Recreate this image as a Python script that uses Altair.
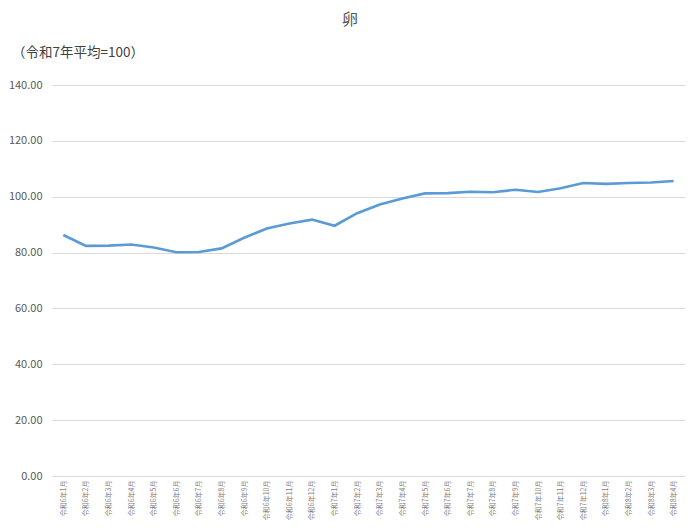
import altair as alt
import pandas as pd

months = [
    "令和6年1月", "令和6年2月", "令和6年3月", "令和6年4月", "令和6年5月", "令和6年6月",
    "令和6年7月", "令和6年8月", "令和6年9月", "令和6年10月", "令和6年11月", "令和6年12月",
    "令和7年1月", "令和7年2月", "令和7年3月", "令和7年4月", "令和7年5月", "令和7年6月",
    "令和7年7月", "令和7年8月", "令和7年9月", "令和7年10月", "令和7年11月", "令和7年12月",
    "令和8年1月", "令和8年2月", "令和8年3月", "令和8年4月",
]
values = [
    86.3, 82.4, 82.5, 82.9, 81.8, 80.1, 80.2, 81.5, 85.3, 88.6, 90.4, 91.8,
    89.6, 94.1, 97.2, 99.4, 101.2, 101.3, 101.8, 101.6, 102.5, 101.7, 103.0, 104.9,
    104.6, 104.9, 105.1, 105.6,
]
y_ticks = [0, 20, 40, 60, 80, 100, 120, 140]
title_text = "卵"
subtitle_text = "（令和7年平均=100）"

FONT = "Noto Sans CJK JP"

df = pd.DataFrame({"month": months, "value": values})

line = alt.Chart(df).mark_line(color="#5b9bd5", strokeWidth=2.6).encode(
    x=alt.X(
        "month:N",
        sort=months,
        axis=alt.Axis(
            title=None, labelAngle=-90, labelFontSize=7, labelColor="#7f7f7f",
            ticks=False, domain=False, grid=False, labelPadding=4, labelFont=FONT,
        ),
    ),
    y=alt.Y(
        "value:Q",
        scale=alt.Scale(domain=[0, 140]),
        axis=alt.Axis(
            title=None, values=y_ticks, format=".2f", grid=True, gridColor="#d9d9d9",
            gridWidth=1, domain=False, ticks=False, labelPadding=10, labelFontSize=11,
            labelColor="#595959", labelFont=FONT,
        ),
    ),
)

title = alt.Chart(pd.DataFrame({"t": [title_text]})).mark_text(
    font=FONT, fontSize=16, color="#595959", align="center", baseline="middle"
).encode(text="t:N", x=alt.value(298), y=alt.value(-65))

subtitle = alt.Chart(pd.DataFrame({"t": [subtitle_text]})).mark_text(
    font=FONT, fontSize=13.5, color="#404040", align="left", baseline="middle"
).encode(text="t:N", x=alt.value(-40), y=alt.value(-32))

chart = alt.layer(line, title, subtitle).properties(
    width=633,
    height=391,
    autosize=alt.AutoSizeParams(type="none"),
    padding={"left": 44, "top": 77, "right": 5, "bottom": 44},
    background="white",
).configure_view(stroke=None)

chart.save("out.html", embed_options={"renderer": "svg", "actions": False})
